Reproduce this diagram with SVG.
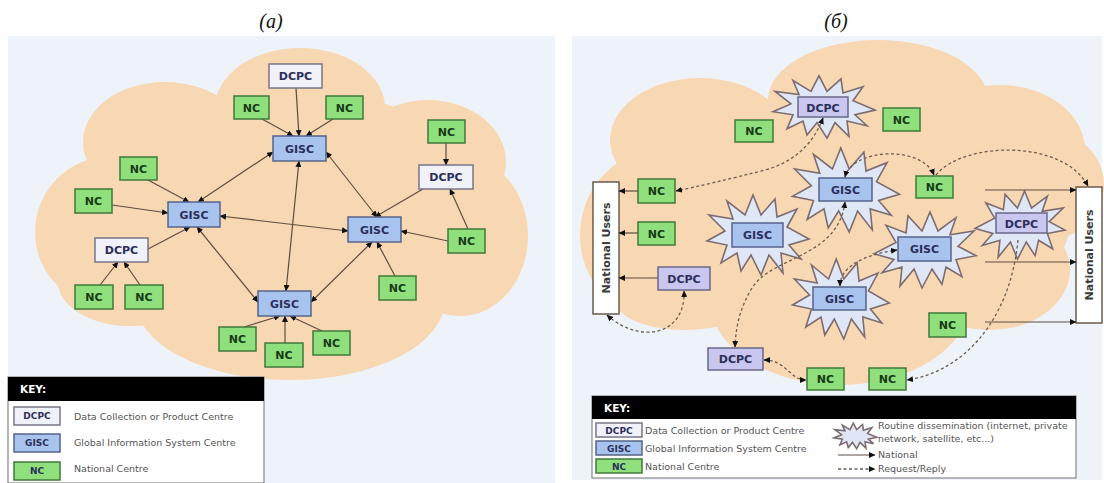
<svg xmlns="http://www.w3.org/2000/svg" xmlns:xlink="http://www.w3.org/1999/xlink" width="1104" height="483" viewBox="0 0 1104 483">
<defs>
<style>
.bg{fill:#eef2f9}
.cloud{fill:#f8d7b3}
.nc{fill:#8fdf7c;stroke:#3f7a3a;stroke-width:1.5}
.gisc{fill:#a9c3ef;stroke:#55648a;stroke-width:1.5}
.dcpa{fill:#f1f1f9;stroke:#767689;stroke-width:1.5}
.dcpb{fill:#c9c7ef;stroke:#686888;stroke-width:1.5}
.nu{fill:#ffffff;stroke:#6b5b4b;stroke-width:1.5}
.star{fill:#dfe7f7;stroke:#7c6c70;stroke-width:1.6;stroke-linejoin:miter}
.lbl{font-family:"DejaVu Sans",Verdana,sans-serif;font-weight:bold;font-size:11px;text-anchor:middle;fill:#2b2f5a}
.lnc{fill:#173a17}
.nut{font-family:"DejaVu Sans",Verdana,sans-serif;font-weight:bold;font-size:11px;text-anchor:middle;fill:#3a3a3a}
.ln{fill:none;stroke:#5e4e40;stroke-width:1.2}
.dl{fill:none;stroke:#6e5e50;stroke-width:1.3;stroke-dasharray:3 2.5}
.key{fill:#ffffff;stroke:#888;stroke-width:1.2}
.kh{fill:#000}
.kht{font-family:"DejaVu Sans",Verdana,sans-serif;font-weight:bold;font-size:10.5px;fill:#fff}
.kt{font-family:"DejaVu Sans",Verdana,sans-serif;font-size:9.5px;fill:#555}
.ki{font-family:"DejaVu Sans",Verdana,sans-serif;font-weight:bold;font-size:9px;text-anchor:middle;fill:#2b2f5a}
.title{font-family:"Liberation Serif","Times New Roman",serif;font-style:italic;font-size:20px;text-anchor:middle;fill:#111}
</style>
<marker id="ah" markerUnits="userSpaceOnUse" markerWidth="7" markerHeight="6" refX="6" refY="3" orient="auto-start-reverse">
<path d="M0,0 L6.5,3 L0,6 z" fill="#111"/>
</marker>
<polygon id="star" class="star" vector-effect="non-scaling-stroke" points="52,4 32,10 44,24 24,18 26,38 12,20 4,40 -6,20 -16,36 -20,18 -36,28 -30,10 -50,6 -32,-4 -48,-20 -24,-16 -30,-34 -12,-20 -4,-40 4,-20 18,-36 20,-18 40,-26 30,-8"/>
</defs>

<rect width="1104" height="483" fill="#ffffff"/>

<!-- Panel (a) -->
<g id="panel-a-bg">
<rect class="bg" x="8" y="36" width="547" height="447"/>
<g class="cloud">
<ellipse cx="300" cy="108" rx="85" ry="60"/>
<ellipse cx="165" cy="142" rx="82" ry="60"/>
<ellipse cx="112" cy="232" rx="77" ry="76"/>
<ellipse cx="130" cy="282" rx="72" ry="44"/>
<ellipse cx="290" cy="300" rx="155" ry="80"/>
<ellipse cx="428" cy="162" rx="78" ry="62"/>
<ellipse cx="460" cy="236" rx="68" ry="80"/>
<ellipse cx="290" cy="212" rx="205" ry="122"/>
</g>
</g>
<text class="title" x="271" y="28">(a)</text>

<g id="connectors-a">
<path class="ln" d="M273,152 L198,202" marker-start="url(#ah)" marker-end="url(#ah)"/>
<path class="ln" d="M326,152 L377,217" marker-start="url(#ah)" marker-end="url(#ah)"/>
<path class="ln" d="M299,161 L286,291" marker-start="url(#ah)" marker-end="url(#ah)"/>
<path class="ln" d="M220,216 L348,231" marker-start="url(#ah)" marker-end="url(#ah)"/>
<path class="ln" d="M197,227 L258,302" marker-start="url(#ah)" marker-end="url(#ah)"/>
<path class="ln" d="M372,242 L311,302" marker-start="url(#ah)" marker-end="url(#ah)"/>
<path class="ln" d="M262,119 L293,136" marker-end="url(#ah)"/>
<path class="ln" d="M333,119 L306,136" marker-end="url(#ah)"/>
<path class="ln" d="M296,88 L299,136" marker-end="url(#ah)"/>
<path class="ln" d="M148,180 L189,202" marker-end="url(#ah)"/>
<path class="ln" d="M112,205 L168,213" marker-end="url(#ah)"/>
<path class="ln" d="M148,249 L190,227" marker-end="url(#ah)"/>
<path class="ln" d="M100,285 L118,262" marker-end="url(#ah)"/>
<path class="ln" d="M140,285 L124,262" marker-end="url(#ah)"/>
<path class="ln" d="M446,143 L446,165" marker-end="url(#ah)"/>
<path class="ln" d="M423,189 L375,217" marker-end="url(#ah)"/>
<path class="ln" d="M468,229 L450,189" marker-end="url(#ah)"/>
<path class="ln" d="M448,241 L401,231" marker-end="url(#ah)"/>
<path class="ln" d="M395,276 L377,242" marker-end="url(#ah)"/>
<path class="ln" d="M244,327 L280,316" marker-end="url(#ah)"/>
<path class="ln" d="M285,343 L285,316" marker-end="url(#ah)"/>
<path class="ln" d="M322,331 L290,316" marker-end="url(#ah)"/>
</g>

<g id="a-dcpc-top"><rect class="dcpa" x="269" y="64" width="53" height="24"/><text class="lbl" x="295.5" y="80">DCPC</text></g>
<g id="a-nc-tl"><rect class="nc" x="234" y="96" width="35" height="23"/><text class="lbl lnc" x="251.5" y="111.5">NC</text></g>
<g id="a-nc-tr"><rect class="nc" x="326" y="96" width="37" height="23"/><text class="lbl lnc" x="344.5" y="111.5">NC</text></g>
<g id="a-gisc-top"><rect class="gisc" x="273" y="136" width="53" height="25"/><text class="lbl" x="299.5" y="152.5">GISC</text></g>
<g id="a-nc-frt"><rect class="nc" x="428" y="120" width="37" height="23"/><text class="lbl lnc" x="446.5" y="135.5">NC</text></g>
<g id="a-dcpc-right"><rect class="dcpa" x="419" y="165" width="54" height="24"/><text class="lbl" x="446" y="181">DCPC</text></g>
<g id="a-nc-l"><rect class="nc" x="120" y="157" width="37" height="23"/><text class="lbl lnc" x="138.5" y="172.5">NC</text></g>
<g id="a-nc-fl"><rect class="nc" x="75" y="189" width="37" height="24"/><text class="lbl lnc" x="93.5" y="205">NC</text></g>
<g id="a-gisc-left"><rect class="gisc" x="168" y="202" width="52" height="25"/><text class="lbl" x="194" y="218.5">GISC</text></g>
<g id="a-gisc-right"><rect class="gisc" x="348" y="217" width="53" height="25"/><text class="lbl" x="374.5" y="233.5">GISC</text></g>
<g id="a-nc-r"><rect class="nc" x="448" y="229" width="37" height="24"/><text class="lbl lnc" x="466.5" y="245">NC</text></g>
<g id="a-dcpc-left"><rect class="dcpa" x="95" y="238" width="53" height="24"/><text class="lbl" x="121.5" y="254">DCPC</text></g>
<g id="a-nc-br"><rect class="nc" x="379" y="276" width="37" height="24"/><text class="lbl lnc" x="397.5" y="292">NC</text></g>
<g id="a-nc-bl1"><rect class="nc" x="75" y="285" width="38" height="24"/><text class="lbl lnc" x="94" y="301">NC</text></g>
<g id="a-nc-bl2"><rect class="nc" x="125" y="285" width="38" height="24"/><text class="lbl lnc" x="144" y="301">NC</text></g>
<g id="a-gisc-bottom"><rect class="gisc" x="258" y="291" width="53" height="25"/><text class="lbl" x="284.5" y="307.5">GISC</text></g>
<g id="a-nc-b1"><rect class="nc" x="219" y="327" width="37" height="24"/><text class="lbl lnc" x="237.5" y="343">NC</text></g>
<g id="a-nc-bc"><rect class="nc" x="265" y="343" width="38" height="24"/><text class="lbl lnc" x="284" y="359">NC</text></g>
<g id="a-nc-br2"><rect class="nc" x="313" y="331" width="37" height="24"/><text class="lbl lnc" x="331.5" y="347">NC</text></g>

<g id="a-key">
<rect class="key" x="8" y="377" width="256" height="106"/>
<rect class="kh" x="8" y="377" width="256" height="24"/>
<text class="kht" x="20" y="393">KEY:</text>
<rect class="dcpa" x="14" y="407" width="46" height="18"/><text class="ki" x="37" y="419">DCPC</text>
<text class="kt" x="74" y="420">Data Collection or Product Centre</text>
<rect class="gisc" x="14" y="434" width="46" height="18"/><text class="ki" x="37" y="446">GISC</text>
<text class="kt" x="74" y="446">Global Information System Centre</text>
<rect class="nc" x="14" y="462" width="46" height="18"/><text class="ki lnc" x="37" y="474">NC</text>
<text class="kt" x="74" y="472">National Centre</text>
</g>

<!-- Panel (b) -->
<g id="panel-b-bg">
<rect class="bg" x="572" y="36" width="530" height="444"/>
<g class="cloud">
<ellipse cx="878" cy="100" rx="110" ry="60"/>
<ellipse cx="700" cy="140" rx="90" ry="62"/>
<ellipse cx="660" cy="235" rx="80" ry="85"/>
<ellipse cx="685" cy="300" rx="70" ry="30"/>
<ellipse cx="840" cy="300" rx="130" ry="85"/>
<ellipse cx="1000" cy="150" rx="85" ry="65"/>
<ellipse cx="1045" cy="185" rx="59" ry="55"/>
<ellipse cx="990" cy="270" rx="80" ry="60"/>
<ellipse cx="850" cy="220" rx="220" ry="120"/>
</g>
</g>
<text class="title" x="836" y="28">(б)</text>

<g id="b-nu-left"><rect class="nu" x="593" y="182" width="26" height="132"/><text class="nut" transform="translate(610,248) rotate(-90)">National Users</text></g>
<g id="b-nu-right"><rect class="nu" x="1076" y="187" width="26" height="136"/><text class="nut" transform="translate(1093,255) rotate(-90)">National Users</text></g>

<g id="b-dcpc-top"><use xlink:href="#star" href="#star" transform="translate(823,107) scale(1,0.78)"/><rect class="dcpb" x="798" y="97" width="50" height="20"/><text class="lbl" x="823" y="111.5">DCPC</text></g>
<g id="b-gisc-top"><use xlink:href="#star" href="#star" transform="translate(845,190) scale(1.05,1.05)"/><rect class="gisc" x="819" y="178" width="53" height="23"/><text class="lbl" x="845.5" y="193.5">GISC</text></g>
<g id="b-gisc-left"><use xlink:href="#star" href="#star" transform="translate(757,235)"/><rect class="gisc" x="732" y="223" width="51" height="24"/><text class="lbl" x="757.5" y="239">GISC</text></g>
<g id="b-gisc-right"><use xlink:href="#star" href="#star" transform="translate(926,250) scale(-1,0.95)"/><rect class="gisc" x="898" y="237" width="53" height="24"/><text class="lbl" x="924.5" y="253">GISC</text></g>
<g id="b-gisc-bottom"><use xlink:href="#star" href="#star" transform="translate(840,299) scale(0.95,1)"/><rect class="gisc" x="813" y="287" width="53" height="23"/><text class="lbl" x="839.5" y="302.5">GISC</text></g>
<g id="b-dcpc-right"><use xlink:href="#star" href="#star" transform="translate(1021,225) scale(-0.88,0.85)"/><rect class="dcpb" x="996" y="213" width="51" height="20"/><text class="lbl" x="1021.5" y="227.5">DCPC</text></g>

<g id="connectors-b">
<path class="ln" d="M638,191 L619,191" marker-end="url(#ah)"/>
<path class="ln" d="M638,233 L619,233" marker-end="url(#ah)"/>
<path class="ln" d="M658,278 L619,278" marker-end="url(#ah)"/>
<path class="ln" d="M985,190 L1076,190" marker-end="url(#ah)"/>
<path class="ln" d="M985,262 L1076,262" marker-end="url(#ah)"/>
<path class="ln" d="M985,322 L1076,322" marker-end="url(#ah)"/>
<path class="dl" d="M823,118 Q808,158 765,170 Q710,184 676,191" marker-start="url(#ah)" marker-end="url(#ah)"/>
<path class="dl" d="M684,291 C686,335 640,345 607,315" marker-start="url(#ah)" marker-end="url(#ah)"/>
<path class="dl" d="M845,177 C852,148 922,145 934,175" marker-start="url(#ah)" marker-end="url(#ah)"/>
<path class="dl" d="M936,175 C962,142 1062,138 1088,186" marker-end="url(#ah)"/>
<path class="dl" d="M845,202 C838,258 772,256 752,288 C740,308 736,325 735,347" marker-start="url(#ah)" marker-end="url(#ah)"/>
<path class="dl" d="M764,360 C786,360 790,380 806,380" marker-start="url(#ah)" marker-end="url(#ah)"/>
<path class="dl" d="M840,286 C840,265 868,254 897,250" marker-start="url(#ah)" marker-end="url(#ah)"/>
<path class="dl" d="M1018,240 C1010,322 962,372 907,380" marker-end="url(#ah)"/>
</g>

<g id="b-nc-tl"><rect class="nc" x="735" y="120" width="38" height="22"/><text class="lbl lnc" x="754" y="135">NC</text></g>
<g id="b-nc-tr"><rect class="nc" x="883" y="108" width="37" height="23"/><text class="lbl lnc" x="901.5" y="123.5">NC</text></g>
<g id="b-nc-left1"><rect class="nc" x="638" y="179" width="37" height="24"/><text class="lbl lnc" x="656.5" y="195">NC</text></g>
<g id="b-nc-left2"><rect class="nc" x="638" y="222" width="37" height="23"/><text class="lbl lnc" x="656.5" y="237.5">NC</text></g>
<g id="b-dcpc-left"><rect class="dcpb" x="658" y="267" width="52" height="23"/><text class="lbl" x="684" y="282.5">DCPC</text></g>
<g id="b-nc-gisc"><rect class="nc" x="916" y="176" width="37" height="22"/><text class="lbl lnc" x="934.5" y="191">NC</text></g>
<g id="b-nc-mid"><rect class="nc" x="929" y="313" width="37" height="24"/><text class="lbl lnc" x="947.5" y="329">NC</text></g>
<g id="b-dcpc-bottom"><rect class="dcpb" x="708" y="348" width="55" height="22"/><text class="lbl" x="735.5" y="363">DCPC</text></g>
<g id="b-nc-bottom1"><rect class="nc" x="807" y="368" width="37" height="22"/><text class="lbl lnc" x="825.5" y="383">NC</text></g>
<g id="b-nc-bottom2"><rect class="nc" x="869" y="368" width="37" height="22"/><text class="lbl lnc" x="887.5" y="383">NC</text></g>

<g id="b-key">
<rect class="key" x="592" y="396" width="484" height="82"/>
<rect class="kh" x="592" y="396" width="484" height="23"/>
<text class="kht" x="604" y="411.5">KEY:</text>
<rect class="dcpa" x="596" y="423" width="46" height="14"/><text class="ki" x="619" y="434">DCPC</text>
<text class="kt" x="645" y="434">Data Collection or Product Centre</text>
<rect class="gisc" x="596" y="441" width="46" height="14"/><text class="ki" x="619" y="452">GISC</text>
<text class="kt" x="645" y="452">Global Information System Centre</text>
<rect class="nc" x="596" y="459" width="46" height="14"/><text class="ki lnc" x="619" y="470">NC</text>
<text class="kt" x="645" y="470">National Centre</text>
<use xlink:href="#star" href="#star" transform="translate(855,436) scale(0.42,0.32)"/>
<text class="kt" x="878" y="429">Routine dissemination (internet, private</text>
<text class="kt" x="878" y="442">network, satellite, etc...)</text>
<path class="ln" d="M838,455 L875,455" marker-end="url(#ah)"/>
<text class="kt" x="878" y="458">National</text>
<path class="dl" d="M838,469 L875,469" marker-end="url(#ah)"/>
<text class="kt" x="878" y="472">Request/Reply</text>
</g>
</svg>
